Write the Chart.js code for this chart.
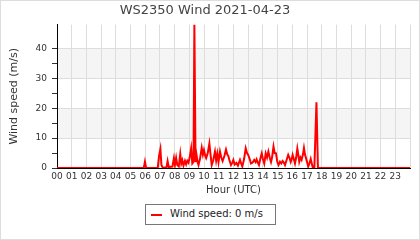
<!DOCTYPE html>
<html>
<head>
<meta charset="utf-8">
<title>WS2350 Wind</title>
<script src="https://cdn.jsdelivr.net/npm/chart.js@4.4.0/dist/chart.umd.min.js"></script>
<style>
  html, body { margin: 0; padding: 0; background: #fff; }
  #wrap { position: relative; width: 420px; height: 240px; font-family: "DejaVu Sans", sans-serif; }
  #frame { position: absolute; left: 0; top: 0; width: 420px; height: 240px; box-sizing: border-box; border: 1px solid #ddd; pointer-events: none; }
  #legend { position: absolute; left: 145px; top: 204px; width: 131px; height: 21px; box-sizing: border-box; border: 1px solid #777; background: #fff; }
  #legend .swatch { position: absolute; left: 5px; top: 9px; width: 11px; height: 2px; background: #f00; }
  #legend .text { position: absolute; left: 24px; top: 3px; font-size: 10px; line-height: 12px; color: #222; white-space: nowrap; }
</style>
</head>
<body>
<div id="wrap">
  <canvas id="windChart" width="420" height="240"></canvas>
  <div id="legend"><span class="swatch"></span><span class="text" id="legendText"></span></div>
  <div id="frame"></div>
</div>
<script>
// ------------------ DATA ------------------
const chartTitle = 'WS2350 Wind 2021-04-23';
const seriesLabel = 'Wind speed: 0 m/s';

// time of day in hours (UTC)
const hours = [
  0, 5.90, 5.98, 6.06, 6.85, 6.90, 6.95, 7.03, 7.10, 7.20,
  7.45, 7.52, 7.60, 7.85, 7.95, 8.02, 8.10, 8.18, 8.28, 8.38,
  8.45, 8.52, 8.60, 8.70, 8.78, 8.86, 8.94, 9.02, 9.12, 9.20,
  9.28, 9.34, 9.42, 9.48, 9.56, 9.62, 9.72, 9.84, 9.92, 9.99,
  10.08, 10.14, 10.25, 10.36, 10.45, 10.52, 10.62, 10.74, 10.82, 10.90,
  10.98, 11.08, 11.17, 11.26, 11.38, 11.49, 11.58, 11.65, 11.72, 11.83,
  11.92, 11.99, 12.08, 12.20, 12.30, 12.44, 12.52, 12.60, 12.72, 12.83,
  12.92, 13.00, 13.10, 13.19, 13.30, 13.41, 13.50, 13.57, 13.65, 13.73,
  13.82, 13.92, 14.00, 14.09, 14.19, 14.28, 14.37, 14.46, 14.55, 14.62,
  14.72, 14.80, 14.89, 14.98, 15.06, 15.16, 15.25, 15.34, 15.42, 15.50,
  15.60, 15.72, 15.80, 15.89, 15.96, 16.02, 16.10, 16.18, 16.26, 16.34,
  16.42, 16.47, 16.55, 16.63, 16.72, 16.79, 16.86, 16.93, 17.00, 17.08,
  17.16, 17.25, 17.32, 17.38, 17.50, 17.64, 17.74, 24
];

// wind speed in m/s
const speeds = [
  0, 0, 2.1, 0, 0, 2.4, 4.4, 6.4, 1.0, 0,
  0.3, 2.3, 0.3, 0.5, 3.3, 1.0, 3.4, 1.0, 0.5, 4.7,
  1.5, 2.6, 0.8, 2.4, 1.2, 2.4, 1.8, 3.5, 6.6, 1.5,
  2.0, 48, 2.0, 4.6, 2.0, 1.0, 3.0, 6.8, 4.5, 6.0,
  4.0, 3.3, 5.0, 8.2, 4.0, 1.0, 2.5, 5.5, 2.5, 4.8,
  2.0, 5.5, 3.5, 2.3, 4.0, 6.2, 4.5, 4.0, 2.7, 1.0,
  1.8, 2.7, 1.2, 1.7, 0.8, 2.7, 1.5, 0.5, 3.0, 6.6,
  5.0, 4.4, 3.0, 1.5, 1.8, 2.7, 2.0, 2.9, 1.8, 1.0,
  3.0, 4.9, 3.0, 1.5, 4.9, 3.5, 5.5, 3.5, 2.0, 3.5,
  7.2, 5.0, 4.9, 2.0, 1.0, 2.1, 1.5, 2.3, 1.8, 1.0,
  2.5, 4.4, 3.5, 2.0, 3.0, 4.4, 3.0, 1.5, 3.5, 6.5,
  4.0, 2.1, 3.5, 2.7, 4.5, 6.7, 4.5, 3.3, 2.0, 0.5,
  1.5, 3.0, 1.5, 0.3, 0.3, 22, 0, 0
];

const hourLabels = ['00','01','02','03','04','05','06','07','08','09','10','11',
                    '12','13','14','15','16','17','18','19','20','21','22','23'];
const yLabelValues = [0, 10, 20, 30, 40];
const shadedBands = [[10, 20], [30, 40]];

// ------------------ PLUGINS ------------------
const bandsPlugin = {
  id: 'bands',
  beforeDraw(chart) {
    const { ctx, chartArea, scales } = chart;
    ctx.save();
    ctx.fillStyle = '#f5f5f5';
    shadedBands.forEach(([lo, hi]) => {
      const yTop = scales.y.getPixelForValue(hi);
      const yBot = scales.y.getPixelForValue(lo);
      ctx.fillRect(chartArea.left, yTop, chartArea.right - chartArea.left, yBot - yTop);
    });
    ctx.restore();
  }
};

// ------------------ CHART ------------------
const points = hours.map((h, i) => ({ x: h, y: speeds[i] }));

new Chart(document.getElementById('windChart'), {
  type: 'line',
  data: {
    datasets: [{
      label: seriesLabel,
      data: points,
      borderColor: '#ff0000',
      borderWidth: 2,
      pointRadius: 0,
      tension: 0,
      fill: false
    }]
  },
  options: {
    responsive: false,
    animation: false,
    devicePixelRatio: 1,
    layout: { padding: { left: 0, right: 10, top: 0, bottom: 44 } },
    plugins: {
      legend: { display: false },
      tooltip: { enabled: false },
      title: {
        display: true,
        text: chartTitle,
        color: '#444',
        font: { family: 'DejaVu Sans', size: 13, weight: 'normal' },
        padding: { top: 3, bottom: 6 }
      }
    },
    scales: {
      x: {
        type: 'linear',
        min: 0,
        max: 24,
        afterFit: s => { s.height = 28; },
        ticks: {
          stepSize: 1,
          autoSkip: false,
          maxRotation: 0,
          padding: 3,
          color: '#333',
          font: { family: 'DejaVu Sans', size: 9 },
          callback: v => hourLabels[v] || ''
        },
        grid: { color: '#ddd', drawTicks: false },
        border: { color: '#000' },
        title: {
          display: true,
          text: 'Hour (UTC)',
          color: '#333',
          font: { family: 'DejaVu Sans', size: 10 },
          padding: { top: 2, bottom: 0 }
        }
      },
      y: {
        min: 0,
        max: 48,
        afterFit: s => { s.width = 57; },
        afterBuildTicks: s => { s.ticks = s.ticks.filter(t => t.value % 5 === 0); },
        ticks: {
          stepSize: 5,
          padding: 5,
          color: '#333',
          font: { family: 'DejaVu Sans', size: 9 },
          callback: v => yLabelValues.includes(v) ? v : ''
        },
        grid: {
          color: c => (c.tick && c.tick.value % 10 === 0 && c.tick.value > 0) ? '#ddd' : 'rgba(0,0,0,0)',
          tickColor: '#333',
          tickLength: 5
        },
        border: { color: '#000' },
        title: {
          display: true,
          text: 'Wind speed (m/s)',
          color: '#333',
          font: { family: 'DejaVu Sans', size: 11 },
          padding: { top: 8, bottom: 0 }
        }
      }
    }
  },
  plugins: [bandsPlugin]
});

document.getElementById('legendText').textContent = seriesLabel;
</script>
</body>
</html>
